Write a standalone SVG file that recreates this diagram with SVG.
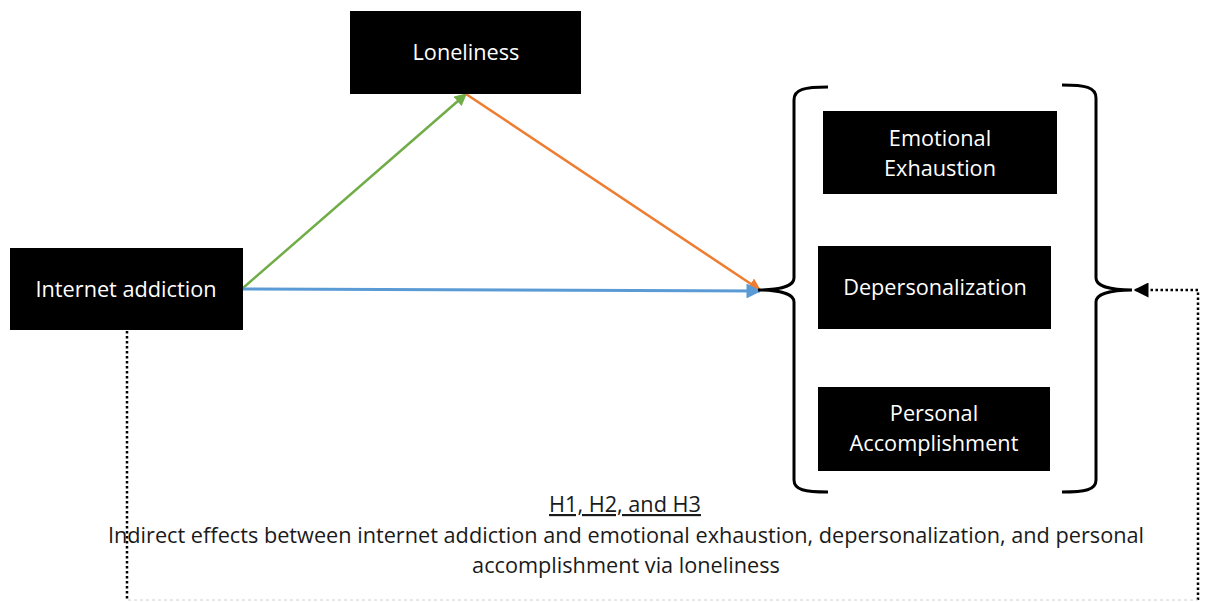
<svg xmlns="http://www.w3.org/2000/svg" width="1205" height="602" viewBox="0 0 1205 602">
<defs>
<style>
.box{fill:#000}
.lbl{fill:#fff;font-family:"Open Sans","Liberation Sans",sans-serif;font-size:21.7px;text-anchor:middle}
.cap{fill:#1a1a1a;font-family:"Open Sans","Liberation Sans",sans-serif;font-size:21.7px;text-anchor:middle}
.brace{fill:none;stroke:#000;stroke-width:3}
.dot{fill:none;stroke:#000;stroke-width:2.5;stroke-dasharray:2.5 2.5}
</style>
<marker id="ag" viewBox="0 0 10 10" refX="9" refY="5" markerWidth="5" markerHeight="5" orient="auto" markerUnits="strokeWidth"><path d="M0,0 L10,5 L0,10 z" fill="#70ad47"/></marker>
<marker id="ao" viewBox="0 0 10 10" refX="9" refY="5" markerWidth="5" markerHeight="5" orient="auto" markerUnits="strokeWidth"><path d="M0,0 L10,5 L0,10 z" fill="#ed7d31"/></marker>
<marker id="ab" viewBox="0 0 10 10" refX="9" refY="5" markerWidth="5" markerHeight="5" orient="auto" markerUnits="strokeWidth"><path d="M0,0 L10,5 L0,10 z" fill="#5b9bd5"/></marker>
<marker id="ak" viewBox="0 0 10 10" refX="9" refY="5" markerWidth="6" markerHeight="6" orient="auto" markerUnits="strokeWidth"><path d="M0,0 L10,5 L0,10 z" fill="#000"/></marker>
</defs>
<g id="connectors">
<line x1="243" y1="288" x2="466" y2="94" stroke="#70ad47" stroke-width="2.5" marker-end="url(#ag)"/>
<line x1="466" y1="94" x2="760" y2="290" stroke="#ed7d31" stroke-width="2.5" marker-end="url(#ao)"/>
<line x1="243" y1="289" x2="760" y2="291" stroke="#5b9bd5" stroke-width="3" marker-end="url(#ab)"/>
<path class="brace" d="M828,87 C805,87 794,89 794,100 L794,278 C794,286 780,290 758,290 C780,290 794,294 794,302 L794,480 C794,490 805,492 828,492"/>
<path class="brace" d="M1062,85 C1085,85 1096,87 1096,98 L1096,278 C1096,286 1110,290 1132,290 C1110,290 1096,294 1096,302 L1096,480 C1096,490 1085,492 1062,492"/>
<path class="dot" d="M127,331 L127,600"/>
<path class="dot" d="M1198,600 L1198,290 L1135,290" marker-end="url(#ak)"/>
<line x1="128" y1="600" x2="1198" y2="600" stroke="#d0d0d0" stroke-width="1" stroke-dasharray="3 3"/>
</g>
<g id="loneliness"><rect class="box" x="350" y="11" width="231" height="83"/><text class="lbl" x="466" y="60">Loneliness</text></g>
<g id="internet-addiction"><rect class="box" x="10" y="248" width="233" height="82"/><text class="lbl" x="126" y="297">Internet addiction</text></g>
<g id="emotional-exhaustion"><rect class="box" x="823" y="111" width="234" height="83"/><text class="lbl" x="940" y="146">Emotional</text><text class="lbl" x="940" y="176">Exhaustion</text></g>
<g id="depersonalization"><rect class="box" x="818" y="246" width="233" height="83"/><text class="lbl" x="935" y="295">Depersonalization</text></g>
<g id="personal-accomplishment"><rect class="box" x="818" y="387" width="232" height="84"/><text class="lbl" x="934" y="421">Personal</text><text class="lbl" x="934" y="451">Accomplishment</text></g>
<g id="caption">
<text class="cap" x="625" y="512" text-decoration="underline">H1, H2, and H3</text>
<text class="cap" x="626" y="543">Indirect effects between internet addiction and emotional exhaustion, depersonalization, and personal</text>
<text class="cap" x="626" y="573">accomplishment via loneliness</text>
</g>
</svg>
